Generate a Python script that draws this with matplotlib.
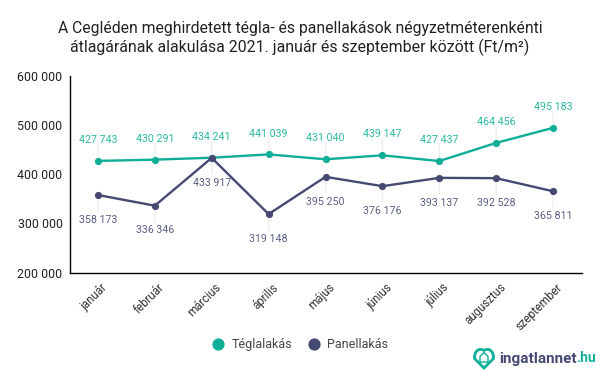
import matplotlib
matplotlib.use("Agg")
import matplotlib.pyplot as plt
from matplotlib.lines import Line2D
from matplotlib.patches import PathPatch, Polygon
from matplotlib.path import Path
from matplotlib.transforms import ScaledTranslation

plt.rcParams['font.family'] = ['Roboto', 'DejaVu Sans']

months = ['január', 'február', 'március', 'április', 'május', 'június', 'július', 'augusztus', 'szeptember']
tegla = [427743, 430291, 434241, 441039, 431040, 439147, 427437, 464456, 495183]
panel = [358173, 336346, 433917, 319148, 395250, 376176, 393137, 392528, 365811]
yticks = [200000, 300000, 400000, 500000, 600000]

TEAL = '#0fae96'
NAVY = '#464a73'
W, H = 600, 371


def fmt(v):
    return f'{v:,}'.replace(',', ' ')


def px(x, y):
    """képpont -> figure koordináta (y lefelé nő)"""
    return x / W, 1 - y / H


def draw_series(ax, values, color, text_color, up):
    xs = range(len(values))
    ax.plot(xs, values, color=color, lw=1.7, marker='o', ms=5.2, mew=0, zorder=3)
    sign = 1 if up else -1
    for i, v in enumerate(values):
        # vezető vonal
        ax.annotate('', xy=(i, v), xytext=(0, sign * 11.5), textcoords='offset points',
                    arrowprops=dict(arrowstyle='-', color='#eeeeee', lw=1, shrinkA=0, shrinkB=0),
                    zorder=1)
        off = 15 if up else -17.8
        ax.annotate(fmt(v), xy=(i, v), xytext=(0, off), textcoords='offset points',
                    ha='center', va='center', fontsize=7.7, color=text_color, zorder=4)


fig = plt.figure(figsize=(6, 3.71), dpi=100)
ax = fig.add_axes([69.5 / W, 1 - 272.5 / H, 512 / W, 196 / H])

draw_series(ax, tegla, TEAL, '#2bb8a2', True)
draw_series(ax, panel, NAVY, '#5b5f85', False)

ax.set_xlim(-0.5, 8.5)
ax.set_ylim(200000, 600000)
ax.set_yticks(yticks)
ax.set_yticklabels([fmt(v) for v in yticks], fontsize=8.9, color='#222222')
ax.set_xticks(range(len(months)))
ax.set_xticklabels(months, rotation=45, ha='right', rotation_mode='anchor',
                   fontsize=8.3, color='#333333')
ax.tick_params(axis='both', length=0)
ax.tick_params(axis='y', pad=5)
ax.tick_params(axis='x', pad=6)
# a címkék kicsit jobbra csúsznak a pont alól
shift = ScaledTranslation(3 / 100, 0, fig.dpi_scale_trans)
for label in ax.get_xticklabels():
    label.set_transform(label.get_transform() + shift)
for s in ['top', 'right']:
    ax.spines[s].set_visible(False)
for s in ['left', 'bottom']:
    ax.spines[s].set_linewidth(1)
    ax.spines[s].set_color('black')

fig.text(0.5, 1 - 29 / H, 'A Cegléden meghirdetett tégla- és panellakások négyzetméterenkénti',
         ha='center', va='center', fontsize=11.3, color='#222222')
fig.text(0.5, 1 - 47.5 / H, 'átlagárának alakulása 2021. január és szeptember között (Ft/m²)',
         ha='center', va='center', fontsize=11.45, color='#222222')

handles = [
    Line2D([], [], ls='none', marker='o', ms=8.8, mew=0, color=TEAL, label='Téglalakás'),
    Line2D([], [], ls='none', marker='o', ms=8.8, mew=0, color=NAVY, label='Panellakás'),
]
fig.legend(handles=handles, loc='center', bbox_to_anchor=px(300, 344.5), ncol=2, frameon=False,
           fontsize=9, labelcolor='#444444', handlelength=1, handletextpad=0.6, columnspacing=1.2)

# logó: szív alakú keret + ház
hx, hy = 484, 357
heart = [(0, 11), (-9.5, 1.5), (-9.8, -6), (-5, -9.5), (0, -6.5), (5, -9.5), (9.8, -6), (9.5, 1.5), (0, 11)]
verts = [px(hx + a, hy + b) for a, b in heart]
codes = [Path.MOVETO, Path.LINETO, Path.CURVE4, Path.CURVE4, Path.CURVE4, Path.CURVE4, Path.CURVE4, Path.LINETO, Path.CLOSEPOLY]
fig.add_artist(PathPatch(Path(verts, codes), facecolor='none', edgecolor=TEAL, lw=2,
                         transform=fig.transFigure))
house = [(-4, 5), (-4, -0.5), (0, -4.5), (4, -0.5), (4, 5)]
fig.add_artist(Polygon([px(hx + a, hy + b) for a, b in house], closed=True, facecolor='none',
                       edgecolor=TEAL, lw=1, transform=fig.transFigure))
fig.text(*px(499, 362.5), 'ingatlannet', ha='left', va='baseline', fontsize=11,
         fontweight='bold', color=NAVY)
fig.text(*px(576, 362.5), '.hu', ha='left', va='baseline', fontsize=10,
         fontweight='bold', color=TEAL)

fig.savefig('out.png', dpi=100)
